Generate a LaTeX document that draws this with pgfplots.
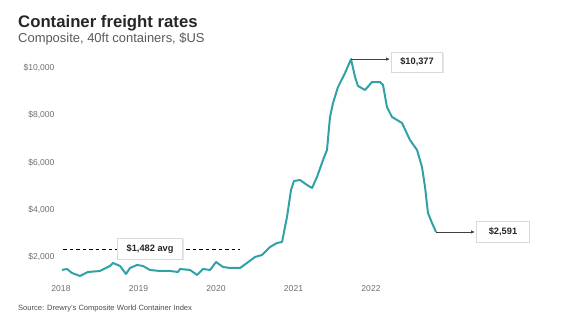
\documentclass[border=0pt]{standalone}
\usepackage{pgfplots}
\pgfplotsset{compat=1.18}
\usepackage{fontspec}
\setmainfont{Liberation Sans}
\usetikzlibrary{shadows,arrows.meta}
\definecolor{teal1}{RGB}{48,162,166}
\definecolor{tickgray}{RGB}{110,110,110}
\begin{document}
\begin{tikzpicture}[x=1bp,y=1bp]
\path[use as bounding box] (0,0) rectangle (573,321);
\node[anchor=base west,inner sep=0pt,font=\fontsize{16.8}{19}\selectfont\bfseries,text=black!85] at (18,294) {Container freight rates};
\node[anchor=base west,inner sep=0pt,font=\fontsize{13}{15}\selectfont,text=black!65] at (18,279) {Composite, 40ft containers, \$US};
\node[anchor=base west,inner sep=0pt,font=\fontsize{7.6}{9}\selectfont,text=black!70] at (18,11) {Source: Drewry's Composite World Container Index};
\begin{axis}[
  at={(61bp,40.4bp)}, anchor=south west,
  scale only axis, width=387.5bp, height=212.6bp,
  xmin=2018, xmax=2023, ymin=1000, ymax=10000,
  clip=false, scaled y ticks=false, scaled x ticks=false,
  axis line style={draw=none},
  tick style={draw=none},
  xtick={2018,2019,2020,2021,2022},
  xticklabels={2018,2019,2020,2021,2022},
  ytick={2000,4000,6000,8000,10000},
  yticklabels={{\$2,000},{\$4,000},{\$6,000},{\$8,000},{\$10,000}},
  ticklabel style={font=\fontsize{8.6}{10}\selectfont,text=tickgray},
  yticklabel style={xshift=-3bp},
  xticklabel style={yshift=-1bp},
]
\addplot[black, line width=0.9pt, dash pattern=on 3.5pt off 3pt] coordinates {(2018.03,2339) (2020.31,2339)};
\addplot[teal1, line width=2pt, line join=round] coordinates {
(2018.013,1450) (2018.077,1492) (2018.142,1323) (2018.245,1196) (2018.348,1365)
(2018.503,1407) (2018.632,1619) (2018.671,1746) (2018.761,1620) (2018.839,1280)
(2018.890,1534) (2018.981,1661) (2019.058,1619) (2019.148,1450) (2019.277,1407)
(2019.406,1407) (2019.510,1365) (2019.535,1492) (2019.665,1450) (2019.755,1238)
(2019.832,1492) (2019.923,1450) (2020.000,1788) (2020.090,1577) (2020.181,1534)
(2020.310,1534) (2020.400,1746) (2020.503,2000) (2020.594,2085) (2020.697,2423)
(2020.787,2593) (2020.852,2635) (2020.916,3693) (2020.968,4836) (2021.006,5217)
(2021.084,5259) (2021.174,5048) (2021.239,4921) (2021.303,5387) (2021.381,6106)
(2021.432,6529) (2021.471,7926) (2021.510,8519) (2021.574,9196) (2021.665,9789)
(2021.742,10377) (2021.794,9619) (2021.832,9238) (2021.923,9069) (2022.013,9407)
(2022.116,9407) (2022.155,9280) (2022.206,8349) (2022.271,7926) (2022.400,7672)
(2022.503,6952) (2022.594,6529) (2022.658,5810) (2022.697,4963) (2022.735,3862)
(2022.787,3439) (2022.839,3058)
};
\draw[black!75, line width=0.8pt, -{Latex[length=4pt,width=3.5pt]}] (axis cs:2021.742,10377) -- (axis cs:2022.245,10377);
\draw[black!75, line width=0.8pt, -{Latex[length=4pt,width=3.5pt]}] (axis cs:2022.839,3058) -- (axis cs:2023.342,3058);
\node[draw=black!15, fill=white, drop shadow={opacity=0.18,shadow xshift=1bp,shadow yshift=-1bp}, minimum width=51bp, minimum height=20bp, inner sep=2bp, font=\fontsize{9.3}{11}\selectfont\bfseries, text=black!85] at (axis cs:2022.594,10250) {\$10,377};
\node[draw=black!15, fill=white, drop shadow={opacity=0.18,shadow xshift=1bp,shadow yshift=-1bp}, minimum width=53bp, minimum height=21bp, inner sep=2bp, font=\fontsize{9.3}{11}\selectfont\bfseries, text=black!85] at (axis cs:2023.703,3058) {\$2,591};
\node[draw=black!15, fill=white, drop shadow={opacity=0.18,shadow xshift=1bp,shadow yshift=-1bp}, minimum width=65bp, minimum height=21bp, inner sep=2bp, font=\fontsize{9.3}{11}\selectfont\bfseries, text=black!85] at (axis cs:2019.15,2339) {\$1,482 avg};
\end{axis}
\end{tikzpicture}
\end{document}
